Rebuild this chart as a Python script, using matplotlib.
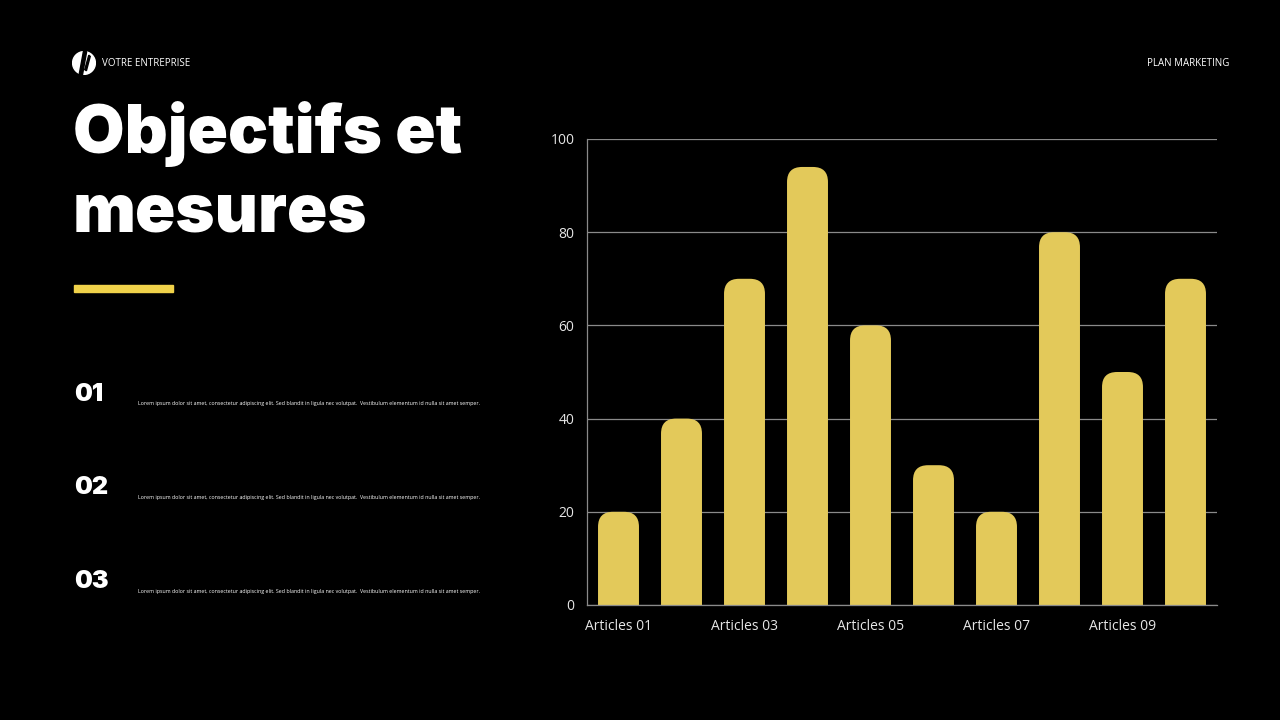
import matplotlib
matplotlib.use("Agg")
import matplotlib.pyplot as plt
from matplotlib.patches import FancyBboxPatch, Circle, Polygon

# data
categories = ["Articles 01", "Articles 02", "Articles 03", "Articles 04", "Articles 05",
              "Articles 06", "Articles 07", "Articles 08", "Articles 09", "Articles 10"]
values = [20, 40, 70, 94, 60, 30, 20, 80, 50, 70]
yticks = [0, 20, 40, 60, 80, 100]
items = ["01", "02", "03"]
lorem = ("Lorem ipsum dolor sit amet, consectetur adipiscing elit. Sed blandit in ligula nec "
         "volutpat.  Vestibulum elementum id nulla sit amet semper.")

BG = "#000000"
YELLOW = "#E3C95A"
TITLE_FONT = ["Inter", "Lato", "DejaVu Sans"]
BODY_FONT = ["Open Sans", "DejaVu Sans"]

W, H = 1280, 720
fig = plt.figure(figsize=(W / 100, H / 100), dpi=100, facecolor=BG)

def fx(px):
    return px / W

def fy(py):
    return 1 - py / H

# header
logo = fig.add_axes([fx(72), fy(75), fx(24), 24 / H])
logo.set_xlim(-1, 1)
logo.set_ylim(-1, 1)
logo.set_aspect("equal")
logo.axis("off")
logo.add_patch(Circle((0, 0), 0.95, color="white"))
logo.add_patch(Polygon([(-0.05, 0.95), (0.22, 0.95), (-0.12, -0.95), (-0.4, -0.95)], color=BG))
logo.add_patch(Polygon([(0.4, 0.65), (0.52, 0.55), (0.2, -0.65), (0.06, -0.55)], color=BG))

fig.text(fx(102), fy(63), "VOTRE ENTREPRISE", color="white", fontsize=7,
         family=BODY_FONT, va="center", ha="left")
fig.text(fx(1229), fy(63), "PLAN MARKETING", color="white", fontsize=7,
         family=BODY_FONT, va="center", ha="right")

# title
for line, base in [("Objectifs et", 153), ("mesures", 232)]:
    fig.text(fx(73), fy(base), line, color="white", fontsize=48, fontweight=900,
             family=TITLE_FONT, va="baseline", ha="left")

# yellow underline
fig.add_artist(plt.Rectangle((fx(74), fy(292)), fx(99), 7 / H, color="#F0D24A",
                             transform=fig.transFigure))

# list items
for i, num in enumerate(items):
    y = 392 + i * 94
    fig.text(fx(74), fy(y + 2), num, color="white", fontsize=18, fontweight=900,
             family=TITLE_FONT, va="center", ha="left")
    fig.text(fx(138), fy(y + 11), lorem, color="white", fontsize=3.8,
             family=BODY_FONT, va="center", ha="left")

# chart
ax = fig.add_axes([fx(587), fy(605), fx(630), 466 / H])
ax.set_facecolor(BG)
ax.set_xlim(-0.5, len(values) - 0.5)
ax.set_ylim(0, 100)

px_x = 630 / len(values)
px_y = 466 / 100
radius_px = 15
rx = radius_px / px_x
aspect = px_x / px_y
bar_w = 0.65
for i, v in enumerate(values):
    ry = rx * aspect
    patch = FancyBboxPatch((i - bar_w / 2, -ry), bar_w, v + ry,
                           boxstyle=f"round,pad=0,rounding_size={rx}",
                           mutation_aspect=aspect, facecolor=YELLOW, edgecolor="none",
                           zorder=3)
    ax.add_patch(patch)

ax.set_yticks(yticks)
ax.set_xticks(range(0, len(values), 2))
ax.set_xticklabels(categories[::2])
ax.grid(axis="y", color="#8a8a8a", linewidth=0.9)
ax.set_axisbelow(True)
for side in ["top", "right"]:
    ax.spines[side].set_visible(False)
for side in ["left", "bottom"]:
    ax.spines[side].set_color("#8a8a8a")
    ax.spines[side].set_linewidth(0.9)
    ax.spines[side].set_zorder(4)
ax.tick_params(length=0, colors="#e6e6e6", labelsize=10)
ax.tick_params(axis="x", pad=10)
ax.tick_params(axis="y", pad=9)
for lab in ax.get_xticklabels() + ax.get_yticklabels():
    lab.set_family(BODY_FONT)

fig.savefig("out.png", dpi=100, facecolor=BG)
